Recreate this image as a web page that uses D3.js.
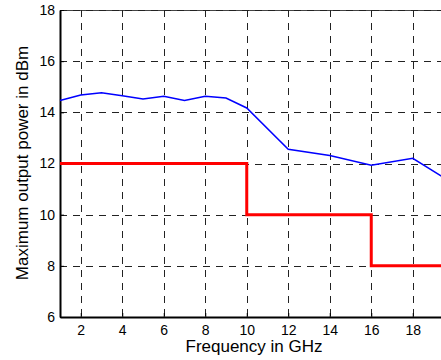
<!DOCTYPE html>
<html><head><meta charset="utf-8">
<script src="https://cdn.jsdelivr.net/npm/d3@7"></script>
<style>
html,body{margin:0;padding:0;background:#fff;overflow:hidden;}
svg{display:block;}
text{font-family:"Liberation Sans",Arial,sans-serif;fill:#000;}
</style></head>
<body>
<script>
const freqMeasured = [1,2,3,4,5,6,7,8,9,10,12,14,16,18,20];
const powerMeasured = [14.46,14.68,14.77,14.65,14.52,14.63,14.46,14.63,14.56,14.17,12.56,12.31,11.93,12.2,11.2];
const specFreq = [1,10,10,16,16,20];
const specPower = [12,12,10,10,8,8];
const xTicks = [2,4,6,8,10,12,14,16,18];
const yTicks = [6,8,10,12,14,16,18];

const W = 441, H = 360;
const mLeft = 60, mTop = 10, mBottom = 317;
const xPerUnit = 20.75;
const mRight = mLeft + xPerUnit*19;

const svg = d3.select("body").append("svg").attr("width", W).attr("height", H);
const x = d3.scaleLinear().domain([1,20]).range([mLeft,mRight]);
const y = d3.scaleLinear().domain([6,18]).range([mBottom,mTop]);

// top box line
svg.append("line").attr("x1",mLeft).attr("x2",mRight).attr("y1",mTop+0.5).attr("y2",mTop+0.5)
  .attr("stroke","#444").attr("stroke-width",1);

// grid
const grid = svg.append("g").attr("stroke","#222").attr("stroke-width",1).attr("stroke-dasharray","7,6");
grid.selectAll("line.v").data(xTicks).join("line")
  .attr("x1",d=>Math.round(x(d))+0.5).attr("x2",d=>Math.round(x(d))+0.5)
  .attr("y1",mTop).attr("y2",mBottom);
grid.selectAll("line.h").data(yTicks.filter(d=>d>6)).join("line")
  .attr("y1",d=>Math.round(y(d))+0.5).attr("y2",d=>Math.round(y(d))+0.5)
  .attr("x1",mLeft).attr("x2",mRight);

// axes
const xAxis = d3.axisBottom(x).tickValues(xTicks).tickSizeInner(-4).tickSizeOuter(0).tickPadding(8);
const gx = svg.append("g").attr("transform",`translate(0,${mBottom})`).call(xAxis);
gx.select(".domain").attr("stroke","#000").attr("stroke-width",2);
gx.selectAll(".tick line").attr("stroke","#000");
gx.selectAll("text").attr("font-size",14).attr("font-family","Liberation Sans, Arial, sans-serif");

const yAxis = d3.axisLeft(y).tickValues(yTicks).tickSizeInner(-4).tickSizeOuter(0).tickPadding(5);
const gy = svg.append("g").attr("transform",`translate(${mLeft},0)`).call(yAxis);
gy.select(".domain").attr("stroke","#000").attr("stroke-width",2);
gy.selectAll(".tick line").attr("stroke","#000");
gy.selectAll("text").attr("font-size",14).attr("font-family","Liberation Sans, Arial, sans-serif");

// lines
const line = d3.line().x(d=>x(d[0])).y(d=>y(d[1]));
svg.append("path").datum(specFreq.map((f,i)=>[f,specPower[i]]))
  .attr("d",line).attr("fill","none").attr("stroke","#ff0000").attr("stroke-width",3);
svg.append("path").datum(freqMeasured.map((f,i)=>[f,powerMeasured[i]]))
  .attr("d",line).attr("fill","none").attr("stroke","#0000ff").attr("stroke-width",1.5);

// labels
svg.append("text").attr("x",254).attr("y",352).attr("text-anchor","middle")
  .attr("font-size",17).text("Frequency in GHz");
svg.append("text").attr("transform",`translate(28,163) rotate(-90)`).attr("text-anchor","middle")
  .attr("font-size",17).text("Maximum output power in dBm");
</script>
</body></html>
